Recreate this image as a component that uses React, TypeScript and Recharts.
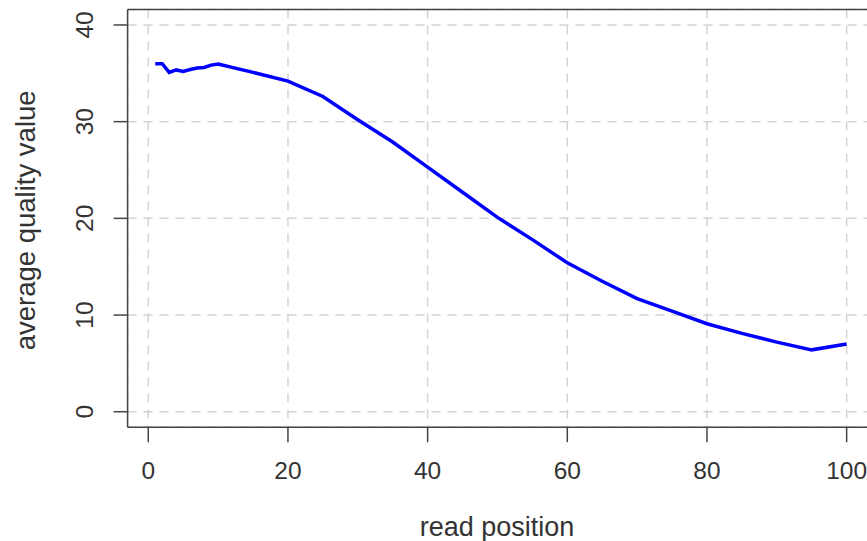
import React from "react";
import { CartesianGrid, Line, LineChart, ReferenceLine, XAxis, YAxis } from "recharts";

// read positions (per-base up to 10, then 5-base bins) and mean quality per position
const positions = [1, 2, 3, 4, 5, 6, 7, 8, 9, 10, 15, 20, 25, 30, 35, 40, 45, 50, 55, 60, 65, 70, 75, 80, 85, 90, 95, 100];
const quality = [
  36.0, 36.0, 35.1, 35.35, 35.2, 35.4, 35.55, 35.6, 35.85, 35.95, 35.1, 34.2, 32.6, 30.2, 27.9, 25.3, 22.7, 20.1,
  17.8, 15.4, 13.5, 11.7, 10.4, 9.1, 8.1, 7.2, 6.4, 7.0,
];
const xTicks = [0, 20, 40, 60, 80, 100];
const yTicks = [0, 10, 20, 30, 40];
const xTitle = "read position";
const yTitle = "average quality value";

const data = positions.map((p, i) => ({ pos: p, q: quality[i] }));

// R-style 4% padded ranges
const X_DOMAIN: [number, number] = [-2.96, 103.96];
const Y_DOMAIN: [number, number] = [-1.6, 41.6];

const PLOT_LEFT = 127.6;
const PLOT_TOP = 9.5;
const PLOT_BOTTOM = 427.2;
const CHART_W = 875;
const CHART_H = 541;

const FONT = "'Liberation Sans', Arial, Helvetica, sans-serif";
const INK = "#444";

const XTick = (props: any) => (
  <text x={props.x} y={PLOT_BOTTOM + 52} textAnchor="middle" fontFamily={FONT} fontSize={24.5} fill="#333">
    {props.payload.value}
  </text>
);

const YTick = (props: any) => {
  const x = PLOT_LEFT - 35;
  return (
    <text
      x={x}
      y={props.y}
      transform={`rotate(-90, ${x}, ${props.y})`}
      textAnchor="middle"
      fontFamily={FONT}
      fontSize={24.5}
      fill="#333"
    >
      {props.payload.value}
    </text>
  );
};

export default function App() {
  const midY = (PLOT_TOP + PLOT_BOTTOM) / 2;
  return (
    <div style={{ position: "absolute", left: 0, top: 0, width: 867, height: 541, overflow: "hidden", background: "#fff" }}>
      <LineChart
        width={CHART_W}
        height={CHART_H}
        data={data}
        margin={{ top: PLOT_TOP, right: 0.7, left: 0, bottom: 0 }}
      >
        <CartesianGrid stroke="#d3d3d3" strokeWidth={1.5} strokeDasharray="9 7" />
        <XAxis
          dataKey="pos"
          type="number"
          domain={X_DOMAIN}
          ticks={xTicks}
          allowDataOverflow
          height={CHART_H - PLOT_BOTTOM}
          stroke={INK}
          strokeWidth={1.5}
          tickSize={15}
          tick={XTick}
          label={{
            content: () => (
              <text x={497} y={536} textAnchor="middle" fontFamily={FONT} fontSize={27} fill="#333">
                {xTitle}
              </text>
            ),
          }}
        />
        <YAxis
          type="number"
          domain={Y_DOMAIN}
          ticks={yTicks}
          allowDataOverflow
          width={PLOT_LEFT}
          stroke={INK}
          strokeWidth={1.5}
          tickSize={14}
          tick={YTick}
          label={{
            content: () => (
              <text
                x={35}
                y={midY + 2}
                transform={`rotate(-90, 35, ${midY + 2})`}
                textAnchor="middle"
                fontFamily={FONT}
                fontSize={27.5}
                fill="#333"
              >
                {yTitle}
              </text>
            ),
          }}
        />
        <ReferenceLine y={41.6} stroke={INK} strokeWidth={1.5} />
        <Line
          type="linear"
          dataKey="q"
          stroke="#0000ff"
          strokeWidth={3.5}
          dot={false}
          isAnimationActive={false}
        />
      </LineChart>
    </div>
  );
}
